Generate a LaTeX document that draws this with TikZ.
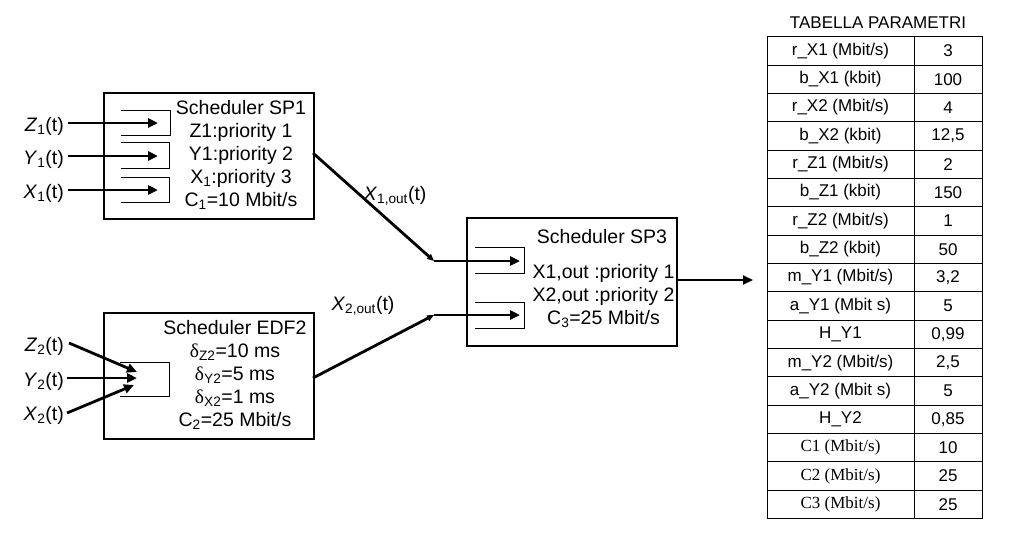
\documentclass[tikz,border=0pt]{standalone}
\usepackage{fontspec}
\setmainfont{Liberation Sans}
\newfontfamily\serifA{Liberation Serif}
\usetikzlibrary{arrows.meta}
\newcommand\tabrow[3]{%
  \node[cell] (l#1) at (840.5,{36.7+28.34*(#1+0.5)}) {#2};
  \node[cell] (r#1) at (948,{36.7+28.34*(#1+0.5)}) {#3};}
\begin{document}
\begin{tikzpicture}[x=1pt,y=-1pt,
  bigfont/.style={font=\fontsize{19.5}{22.8}\selectfont},
  schedbox/.style={draw, line width=1.8pt, anchor=north west, inner sep=0pt},
  txt/.style={bigfont, align=center, inner sep=0pt},
  lab/.style={bigfont, inner sep=2pt, anchor=east},
  queue/.style={line width=0.9pt},
  arr/.style={line width=2.8pt, -{Triangle[length=10pt,width=9pt]}},
  arrs/.style={line width=2.8pt, -{Triangle[length=7pt,width=6pt]}},
  cell/.style={font=\fontsize{17}{20}\selectfont, inner sep=0pt},
  grid/.style={line width=0.9pt}]
\useasboundingbox (0,0) rectangle (1017,549);

% boxes
\node[schedbox, minimum width=210pt, minimum height=126pt] (sp1) at (103,92) {};
\node[schedbox, minimum width=210pt, minimum height=126pt] (edf) at (103,312) {};
\node[schedbox, minimum width=210pt, minimum height=128pt] (sp3) at (466,217) {};

% queues
\draw[queue] (121,110) -- (170,110) -- (170,135) -- (121,135);
\draw[queue] (121,142) -- (169,142) -- (169,168) -- (121,168);
\draw[queue] (121,177) -- (169,177) -- (169,202) -- (121,202);
\draw[queue] (120,362) -- (169,362) -- (169,396) -- (120,396);
\draw[queue] (475,247) -- (524,247) -- (524,273) -- (475,273);
\draw[queue] (475,302) -- (524,302) -- (524,328) -- (475,328);

% box texts
\node[txt] (sp1t) at (241,155) {Scheduler SP1\\Z1:priority 1\\Y1:priority 2\\X\textsubscript{1}:priority 3\\C\textsubscript{1}=10 Mbit/s};
\node[txt] (edft) at (235,375) {Scheduler EDF2\\{\serifA δ}\textsubscript{Z2}=10 ms\\{\serifA δ}\textsubscript{Y2}=5 ms\\{\serifA δ}\textsubscript{X2}=1 ms\\C\textsubscript{2}=25 Mbit/s};
\node[txt] (sp3h) at (602,237) {Scheduler SP3};
\node[txt] (sp3t) at (603.5,296) {X1,out :priority 1\\X2,out :priority 2\\C\textsubscript{3}=25 Mbit/s};

% input labels
\node[lab] (z1) at (66,126) {\textit{Z}\textsubscript{1}(t)};
\node[lab] (y1) at (66,159) {\textit{Y}\textsubscript{1}(t)};
\node[lab] (x1) at (66,193) {\textit{X}\textsubscript{1}(t)};
\node[lab] (z2) at (66,346) {\textit{Z}\textsubscript{2}(t)};
\node[lab] (y2) at (66,381) {\textit{Y}\textsubscript{2}(t)};
\node[lab] (x2) at (66,415) {\textit{X}\textsubscript{2}(t)};

\coordinate (q1) at (158,123);
\coordinate (q2) at (158,156);
\coordinate (q3) at (158,190);
\coordinate (ez) at (137,372);
\coordinate (ey) at (137,378);
\coordinate (ex) at (134,385);
\coordinate (z2s) at (69,343);
\coordinate (y2s) at (67,378);
\coordinate (x2s) at (67,413);

\draw[arr] (z1.east |- q1) ++(2,0) -- (q1);
\draw[arr] (y1.east |- q2) ++(2,0) -- (q2);
\draw[arr] (x1.east |- q3) ++(2,0) -- (q3);
\draw[arr] (z2s) -- (ez);
\draw[arr] (y2s) -- (ey);
\draw[arr] (x2s) -- (ex);

% inter-scheduler connectors
\coordinate (o1) at (313,153);
\coordinate (b1) at (434,261);
\coordinate (t1) at (520,261);
\coordinate (o2) at (313,378);
\coordinate (b2) at (434,315);
\coordinate (t2) at (520,315);
\coordinate (o3) at (676,280);
\coordinate (out) at (753,280);
\draw[arrs] (o1) -- (b1);
\draw[arr] (b1) -- (t1);
\draw[arrs] (o2) -- (b2);
\draw[arr] (b2) -- (t2);
\draw[arr, line width=2pt] (o3) -- (out);

\node[bigfont, inner sep=0pt] (x1o) at (395,196) {\textit{X}\textsubscript{1,out}(t)};
\node[bigfont, inner sep=0pt] (x2o) at (363,306) {\textit{X}\textsubscript{2,out}(t)};

% table
\node[cell] (title) at (878,23) {TABELLA PARAMETRI};
\draw[grid] (767,36.7) rectangle (982,518.5);
\draw[grid] (914,36.7) -- (914,518.5);
\foreach \i in {1,...,16} \draw[grid] (767,{36.7+28.34*\i}) -- (982,{36.7+28.34*\i});
\tabrow{0}{r\_X1 (Mbit/s)}{3}
\tabrow{1}{b\_X1 (kbit)}{100}
\tabrow{2}{r\_X2 (Mbit/s)}{4}
\tabrow{3}{b\_X2 (kbit)}{12,5}
\tabrow{4}{r\_Z1 (Mbit/s)}{2}
\tabrow{5}{b\_Z1 (kbit)}{150}
\tabrow{6}{r\_Z2 (Mbit/s)}{1}
\tabrow{7}{b\_Z2 (kbit)}{50}
\tabrow{8}{m\_Y1 (Mbit/s)}{3,2}
\tabrow{9}{a\_Y1 (Mbit s)}{5}
\tabrow{10}{H\_Y1}{0,99}
\tabrow{11}{m\_Y2 (Mbit/s)}{2,5}
\tabrow{12}{a\_Y2 (Mbit s)}{5}
\tabrow{13}{H\_Y2}{0,85}
\tabrow{14}{{\serifA C1 (Mbit/s)}}{10}
\tabrow{15}{{\serifA C2 (Mbit/s)}}{25}
\tabrow{16}{{\serifA C3 (Mbit/s)}}{25}
\end{tikzpicture}
\end{document}
